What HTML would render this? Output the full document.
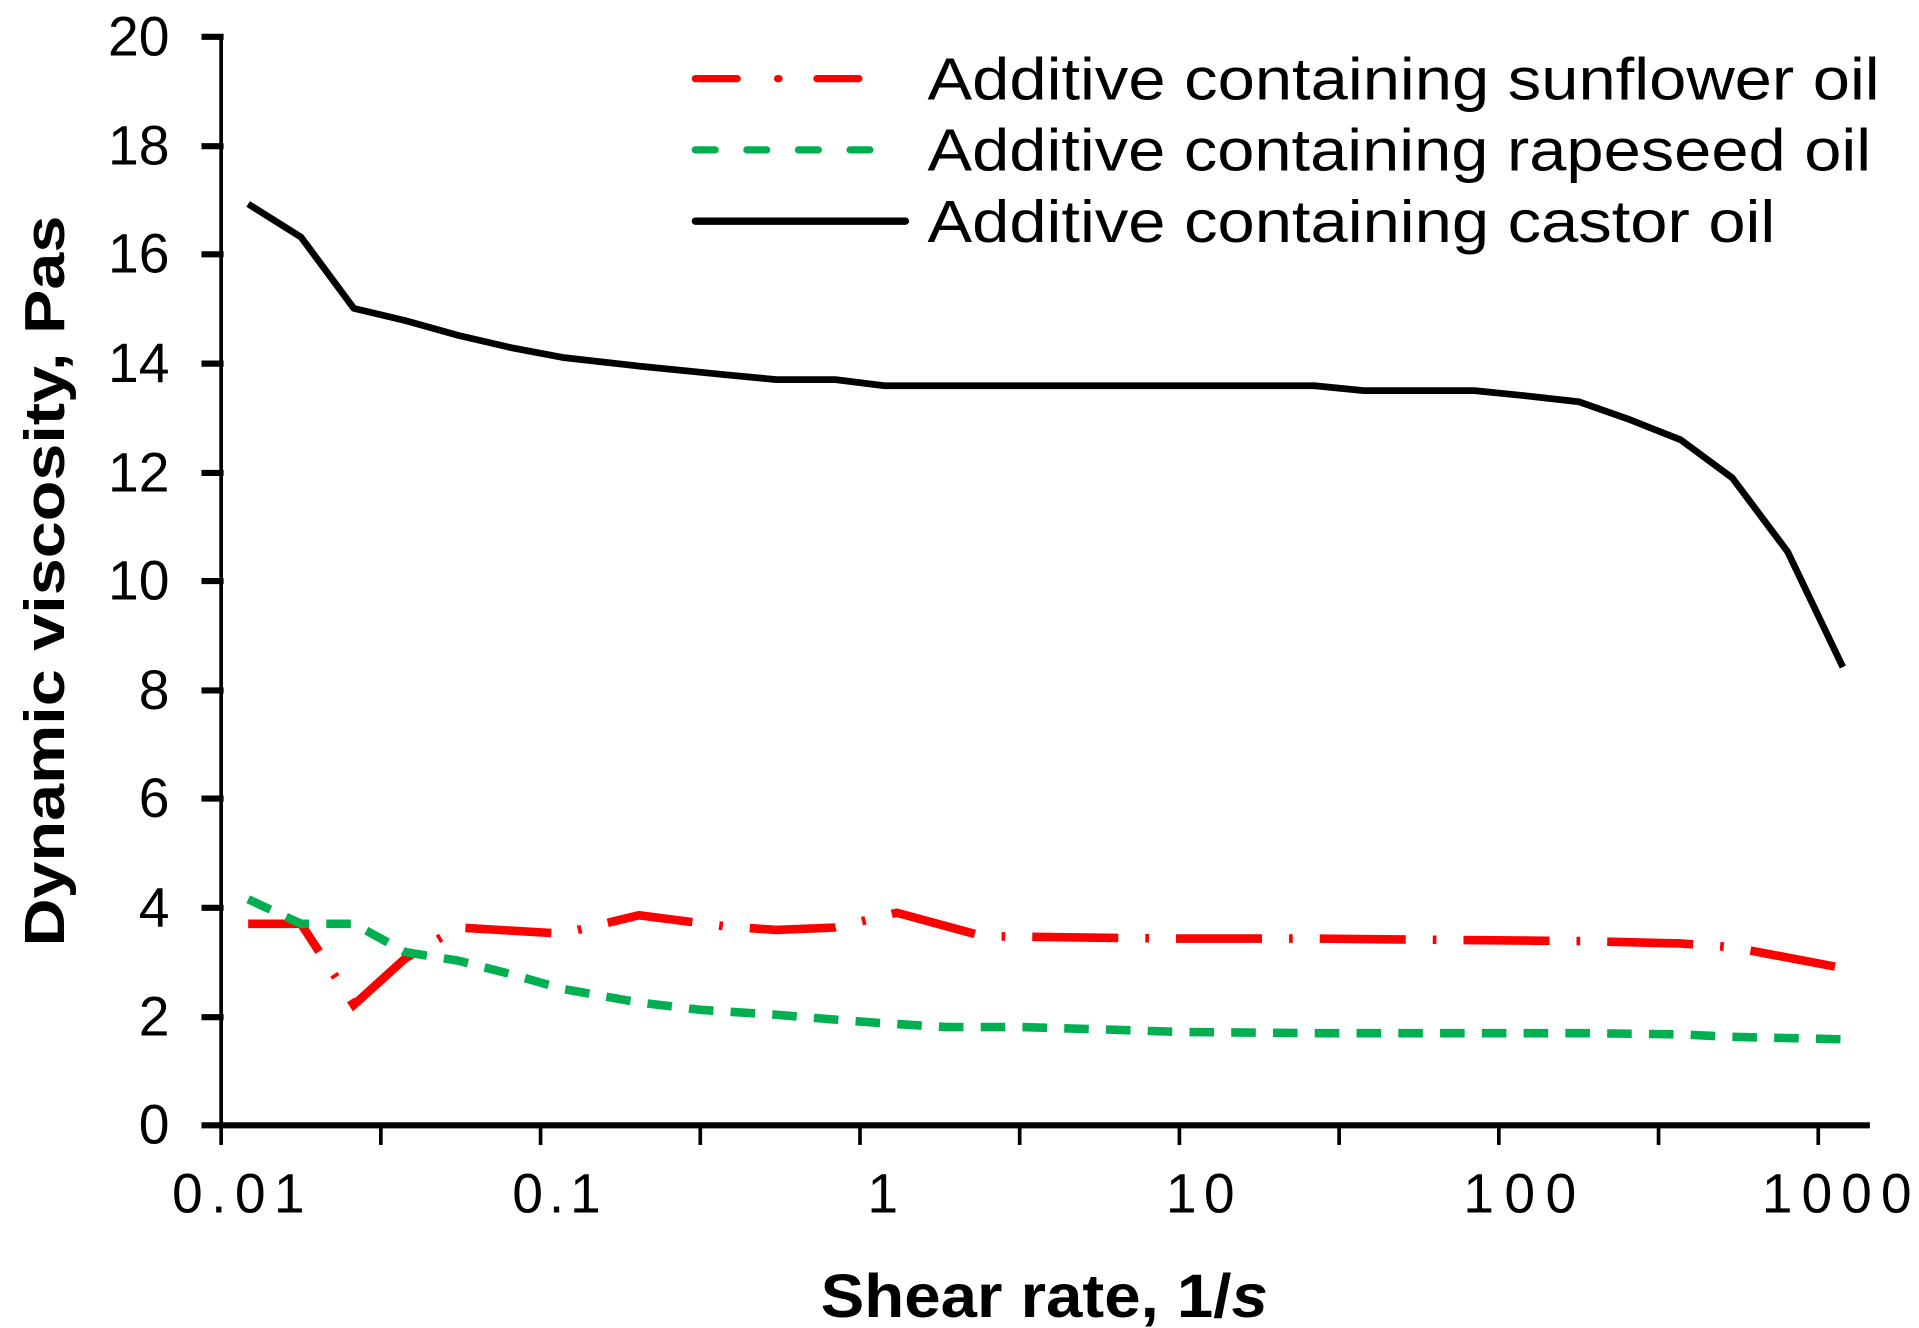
<!DOCTYPE html>
<html><head><meta charset="utf-8"><style>html,body{margin:0;padding:0;background:#fff}svg{display:block}</style></head>
<body>
<svg width="1919" height="1328" viewBox="0 0 1562 1081" preserveAspectRatio="none" xmlns="http://www.w3.org/2000/svg" font-family="Liberation Sans, Arial, sans-serif">
<rect width="1562" height="1081" fill="#fff"/>
<line x1="180" y1="28" x2="180" y2="918" stroke="#000" stroke-width="3"/>
<line x1="178" y1="916" x2="1522" y2="916" stroke="#000" stroke-width="5"/>
<g stroke="#000" stroke-width="5">
<line x1="164" y1="30" x2="182" y2="30"/><line x1="164" y1="119" x2="182" y2="119"/><line x1="164" y1="207" x2="182" y2="207"/><line x1="164" y1="296" x2="182" y2="296"/><line x1="164" y1="385" x2="182" y2="385"/><line x1="164" y1="473" x2="182" y2="473"/><line x1="164" y1="562" x2="182" y2="562"/><line x1="164" y1="650" x2="182" y2="650"/><line x1="164" y1="739" x2="182" y2="739"/><line x1="164" y1="828" x2="182" y2="828"/><line x1="164" y1="916" x2="182" y2="916"/>
</g>
<g stroke="#000" stroke-width="3">
<line x1="180" y1="916" x2="180" y2="932"/><line x1="310" y1="916" x2="310" y2="932"/><line x1="440" y1="916" x2="440" y2="932"/><line x1="570" y1="916" x2="570" y2="932"/><line x1="700" y1="916" x2="700" y2="932"/><line x1="830" y1="916" x2="830" y2="932"/><line x1="960" y1="916" x2="960" y2="932"/><line x1="1090" y1="916" x2="1090" y2="932"/><line x1="1220" y1="916" x2="1220" y2="932"/><line x1="1350" y1="916" x2="1350" y2="932"/><line x1="1480" y1="916" x2="1480" y2="932"/>
</g>
<g font-size="45" fill="#000" text-anchor="end">
<text x="138" y="45">20</text>
<text x="138" y="134">18</text>
<text x="138" y="222">16</text>
<text x="138" y="311">14</text>
<text x="138" y="400">12</text>
<text x="138" y="488">10</text>
<text x="138" y="577">8</text>
<text x="138" y="665">6</text>
<text x="138" y="754">4</text>
<text x="138" y="843">2</text>
<text x="138" y="931">0</text>
</g>
<g font-size="45" fill="#000">
<text x="140" y="987" textLength="108" lengthAdjust="spacing">0.01</text>
<text x="417" y="987" textLength="72" lengthAdjust="spacing">0.1</text>
<text x="706" y="987">1</text>
<text x="949" y="987" textLength="56" lengthAdjust="spacing">10</text>
<text x="1191" y="987" textLength="92" lengthAdjust="spacing">100</text>
<text x="1434" y="987" textLength="122" lengthAdjust="spacing">1000</text>
</g>
<text transform="translate(52,473) rotate(-90)" font-size="46" font-weight="bold" text-anchor="middle" textLength="595" lengthAdjust="spacingAndGlyphs">Dynamic viscosity, Pas</text>
<text x="668" y="1072" font-size="50" font-weight="bold" textLength="364" lengthAdjust="spacingAndGlyphs">Shear rate, 1/<tspan font-style="italic">s</tspan></text>
<polyline fill="none" stroke="#000" stroke-width="5.5" stroke-linejoin="round" points="202,166 245,193 288,251 330,261 373,273 416,283 458,291 520,298 590,305 632,309 680,309 720,314 800,314 900,314 1000,314 1070,314 1110,318 1170,318 1200,318 1240,322 1285,327 1325,341 1368,358 1410,389 1455,449 1500,543"/>
<polyline fill="none" stroke="#ff0000" stroke-width="7" stroke-dasharray="70 22 3 22" points="202,752 245,752 288,818 330,780 373,755 458,760 520,745 590,754 632,757 680,755 730,743 800,762 870,763 960,764 1070,764 1170,765 1285,766 1368,768 1410,771 1500,788"/>
<polyline fill="none" stroke="#00b050" stroke-width="7" stroke-dasharray="20 14" points="202,732 245,752 288,752 330,775 373,782 416,793 458,805 520,816 570,822 632,826 680,830 720,833 770,836 830,836 900,838 960,840 1070,841 1200,841 1290,841 1368,842 1410,844 1500,846"/>
<g stroke-width="6" stroke-linecap="round">
<line x1="566" y1="64" x2="600" y2="64" stroke="#ff0000"/><line x1="633" y1="64" x2="634" y2="64" stroke="#ff0000"/><line x1="665" y1="64" x2="699" y2="64" stroke="#ff0000"/>
<line x1="566" y1="122" x2="718" y2="122" stroke="#00b050" stroke-dasharray="16 26"/>
<line x1="566" y1="180" x2="737" y2="180" stroke="#000"/>
</g>
<g font-size="48" fill="#000">
<text x="755" y="81" textLength="775" lengthAdjust="spacingAndGlyphs">Additive containing sunflower oil</text>
<text x="755" y="139" textLength="768" lengthAdjust="spacingAndGlyphs">Additive containing rapeseed oil</text>
<text x="755" y="197" textLength="690" lengthAdjust="spacingAndGlyphs">Additive containing castor oil</text>
</g>
</svg>
</body></html>
